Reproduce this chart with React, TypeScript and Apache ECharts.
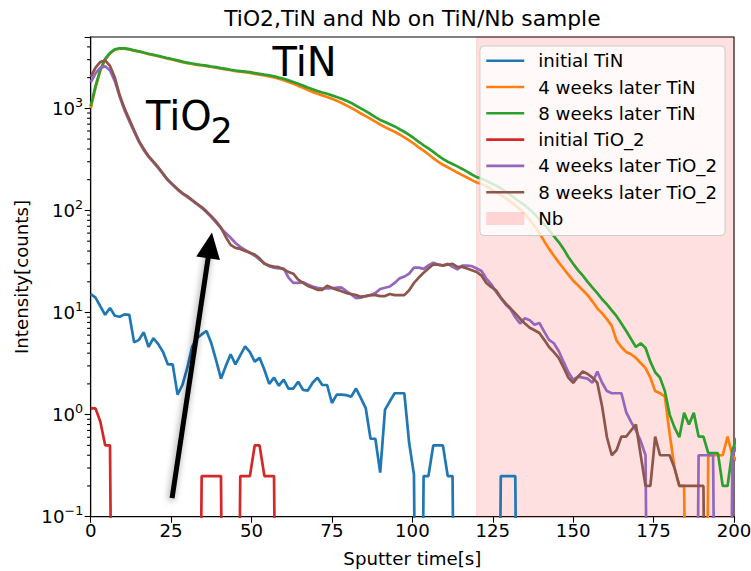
import React, { useEffect, useRef } from 'react';
import * as echarts from 'echarts';

// ---- data (sample index i -> time i * STEP seconds) ----
const STEP = 1.5;

const initialTiN = [
  15.2, 14.0, 11.5, 9.5, 11.1, 9.3, 9.1, 9.6, 9.5, 5.1,
  5.4, 6.4, 4.6, 5.6, 4.9, 4.1, 3.1, 3.1, 1.57, 1.95,
  2.85, 4.6, 5.6, 6.1, 6.6, 5.0, 3.4, 2.25, 3.0, 3.9,
  3.1, 3.8, 4.65, 4.1, 3.3, 3.6, 2.75, 2.0, 2.3, 1.92,
  2.2, 1.8, 1.8, 2.1, 1.75, 1.72, 2.05, 2.3, 1.95, 1.95,
  1.3, 1.57, 1.57, 1.55, 1.5, 1.8, 1.45, 1.16, 0.58, 0.58,
  0.27, 1.12, 1.35, 1.62, 1.62, 1.62, 0.53, 0.26, 0, 0.25,
  0.25, 0.5, 0.5, 0.5, 0.25, 0.25, 0, 0, 0, 0,
  0, 0, 0, 0, 0, 0.25, 0.25, 0.25, 0.25, 0,
  0, 0, 0, 0, 0, 0, 0, 0, 0, 0,
  0, 0, 0, 0, 0, 0, 0, 0, 0, 0,
  0, 0, 0, 0, 0, 0, 0, 0, 0, 0,
  0, 0, 0, 0, 0, 0, 0, 0, 0, 0,
  0, 0, 0, 0, 0,
];

const weeks4TiN = [
  1000, 1600, 2350, 3000, 3450, 3750, 3850, 3850, 3780, 3680,
  3600, 3500, 3400, 3320, 3240, 3150, 3070, 3000, 2920, 2840,
  2770, 2720, 2670, 2630, 2590, 2540, 2500, 2450, 2410, 2360,
  2320, 2290, 2260, 2220, 2180, 2140, 2100, 2060, 2010, 1950,
  1890, 1810, 1740, 1660, 1590, 1510, 1450, 1390, 1340, 1290,
  1240, 1190, 1130, 1070, 1010, 950, 890, 840, 790, 740,
  695, 655, 620, 590, 555, 520, 485, 450, 415, 385,
  355, 325, 300, 280, 265, 250, 235, 222, 210, 198,
  188, 182, 172, 162, 152, 142, 132, 122, 112, 102,
  92, 81, 70, 60, 50, 42, 36, 31, 27, 23.5,
  20.5, 18.5, 16.5, 14.8, 12.8, 11, 9.8, 8.6, 7.4, 5.3,
  4.6, 4.1, 3.9, 3.6, 3.2, 2.85, 2.3, 1.7, 1.62, 1.5,
  0.65, 0.3, 0.2, 0.2, 0, 0, 0, 0, 0.4, 0.4,
  0.4, 0.4, 0.61, 0.4, 0.35,
];

const weeks8TiN = [
  1050, 1650, 2400, 3050, 3500, 3780, 3880, 3870, 3800, 3700,
  3620, 3520, 3430, 3350, 3270, 3180, 3100, 3030, 2950, 2870,
  2800, 2750, 2700, 2660, 2620, 2570, 2530, 2480, 2440, 2390,
  2350, 2320, 2290, 2260, 2220, 2180, 2140, 2110, 2060, 2000,
  1950, 1880, 1810, 1740, 1670, 1600, 1540, 1480, 1430, 1390,
  1340, 1290, 1240, 1190, 1130, 1060, 1000, 940, 880, 820,
  770, 735, 700, 665, 625, 590, 550, 510, 470, 435,
  405, 375, 345, 320, 300, 285, 270, 255, 240, 225,
  212, 205, 195, 185, 175, 165, 153, 142, 131, 121,
  112, 102, 92, 82, 73, 64, 56, 49, 42, 35,
  30, 26, 23, 20, 17.5, 15.5, 13.5, 12, 10.5, 9.2,
  7.8, 6.6, 5.5, 4.6, 5.0, 4.5, 3.3, 2.6, 2.3, 1.7,
  1.0, 0.75, 0.6, 1.04, 0.8, 1.04, 0.61, 0.61, 0.42, 0.42,
  0.42, 0.2, 0.2, 0.45, 0.6,
];

const initialTiO2 = [
  1.15, 1.15, 0.85, 0.5, 0.5, 0, 0, 0, 0, 0,
  0, 0, 0, 0, 0, 0, 0, 0, 0, 0,
  0, 0, 0, 0.25, 0.25, 0.25, 0.25, 0.25, 0, 0,
  0, 0.25, 0.25, 0.25, 0.5, 0.5, 0.25, 0.25, 0.25, 0,
  0, 0, 0, 0, 0, 0, 0, 0, 0, 0,
  0, 0, 0, 0, 0, 0, 0, 0, 0, 0,
  0, 0, 0, 0, 0, 0, 0, 0, 0, 0,
  0, 0, 0, 0, 0, 0, 0, 0, 0, 0,
  0, 0, 0, 0, 0, 0, 0, 0, 0, 0,
  0, 0, 0, 0, 0, 0, 0, 0, 0, 0,
  0, 0, 0, 0, 0, 0, 0, 0, 0, 0,
  0, 0, 0, 0, 0, 0, 0, 0, 0, 0,
  0, 0, 0, 0, 0, 0, 0, 0, 0, 0,
  0, 0, 0, 0, 0,
];

const weeks4TiO2 = [
  1800, 2200, 2500, 2580, 2350, 1850, 1300, 960, 750, 590,
  470, 390, 335, 295, 260, 226, 197, 177, 160, 146,
  136, 125, 115, 106, 96, 86, 76, 67, 60, 54,
  48, 44, 41, 38.5, 36, 33, 30.5, 28.5, 27.5, 27,
  27, 22, 19.5, 19.5, 19.8, 18.8, 18, 17.5, 17.2, 17.2,
  17.3, 17.5, 17.6, 16.2, 15, 13.8, 14, 14.5, 14.8, 15.5,
  17, 17.5, 18, 19.5, 21.6, 22.5, 24, 27.5, 27.5, 26.8,
  29, 30.7, 29.5, 28.8, 30, 28, 26.5, 28.8, 28.8, 28.5,
  27, 25.5, 21.5, 19, 16, 13.8, 12, 10.8, 9, 7.8,
  8.8, 8.4, 7.6, 7.9, 6.5, 5.4, 5.0, 4.2, 3.3, 2.6,
  2.2, 2.35, 2.3, 2.25, 2.05, 2.65, 2.05, 1.7, 1.62, 1.62,
  1.62, 1.05, 0.85, 0.7, 0.55, 0.4, 0, 0, 0, 0,
  0, 0, 0, 0, 0, 0, 0.4, 0.4, 0.4, 0.4,
  0, 0, 0, 0.4, 0.5,
];

const weeks8TiO2 = [
  2050, 2500, 2850, 2950, 2600, 2000, 1350, 1000, 780, 610,
  480, 400, 340, 300, 265, 230, 200, 180, 162, 148,
  138, 127, 117, 108, 98, 88, 78, 68, 55, 46,
  43, 42, 40, 38.5, 37, 34, 30, 28.8, 28.2, 27.8,
  26.5, 25, 24, 21, 19.5, 18.2, 17.5, 16.7, 16.7, 18.3,
  17.5, 16.7, 16.2, 15.5, 15.2, 14.8, 14.3, 14.5, 14.8, 14.8,
  14.5, 14.5, 15.2, 14.8, 14.8, 14.8, 16.5, 19.5, 22, 24.5,
  27, 29.5, 29.5, 29, 29.5, 30, 28, 28, 27, 26,
  25, 23, 19.5, 17.8, 16.5, 14, 12.3, 11, 9.8, 8.7,
  7.8, 7.1, 6.7, 6.3, 5.4, 4.6, 4.1, 3.6, 2.9, 2.3,
  2.05, 2.35, 2.65, 2.5, 2.3, 2.05, 1.2, 0.6, 0.4, 0.45,
  0.61, 0.61, 0.7, 0.8, 0.4, 0.2, 0.2, 0.61, 0.4, 0.4,
  0.4, 0.3, 0.2, 0.2, 0.2, 0.2, 0.2, 0.2, 0, 0,
  0, 0, 0, 0, 0,
];

const seriesNames = [
  'initial TiN',
  '4 weeks later TiN',
  '8 weeks later TiN',
  'initial TiO_2',
  '4 weeks later TiO_2',
  '8 weeks later TiO_2',
];
const seriesValues = [initialTiN, weeks4TiN, weeks8TiN, initialTiO2, weeks4TiO2, weeks8TiO2];
const seriesColors = ['#1f77b4', '#ff7f0e', '#2ca02c', '#d62728', '#9467bd', '#8c564b'];

const NB_LABEL = 'Nb';
const NB_RANGE = [120, 200];

const X_TICKS = [0, 25, 50, 75, 100, 125, 150, 175, 200];
const Y_MIN = 0.1;
const Y_MAX = 5000;
const Y_MINOR_TICKS = [
  0.2, 0.3, 0.4, 0.5, 0.6, 0.7, 0.8, 0.9,
  2, 3, 4, 5, 6, 7, 8, 9,
  20, 30, 40, 50, 60, 70, 80, 90,
  200, 300, 400, 500, 600, 700, 800, 900,
  2000, 3000, 4000,
];

// arrow annotation (data coordinates): tail and head
const ARROW_TAIL = [25.3, 0.152];
const ARROW_HEAD = [37.1, 45.4];

const TITLE = 'TiO2,TiN and Nb on TiN/Nb sample';
const X_NAME = 'Sputter time[s]';
const Y_NAME = 'Intensity[counts]';

const FONT = 'DejaVu Sans';
const ZERO_FLOOR = 1e-6; // zero counts drawn as clipped, like matplotlib's log clip

const LINE_ICON = 'path://M0,0M0,5.2h38v2.6h-38zM38,13';

export default function App() {
  const ref = useRef<HTMLDivElement>(null);

  useEffect(() => {
    if (!ref.current) return;
    const chart = echarts.init(ref.current, null, { renderer: 'svg' });

    const times = initialTiN.map((_, i) => Math.round(i * STEP * 100) / 100);

    const lineSeries = seriesValues.map((vals, k) => ({
      type: 'line',
      name: seriesNames[k],
      data: vals.map((v, i) => [times[i], v > 0 ? v : ZERO_FLOOR]),
      showSymbol: false,
      symbol: 'none',
      color: seriesColors[k],
      itemStyle: { color: seriesColors[k] },
      lineStyle: { color: seriesColors[k], width: 2.7 },
      clip: true,
      silent: true,
      z: 2,
      animation: false,
    }));

    const option: any = {
      animation: false,
      backgroundColor: '#ffffff',
      textStyle: { fontFamily: FONT },
      grid: {
        left: 90.7,
        right: 17,
        top: 37,
        bottom: 54.3,
        show: true,
        borderColor: '#000',
        borderWidth: 1.1,
        backgroundColor: 'transparent',
        containLabel: false,
        outerBoundsMode: 'none',
      },
      xAxis: {
        type: 'value',
        min: X_TICKS[0],
        max: X_TICKS[X_TICKS.length - 1],
        interval: X_TICKS[1] - X_TICKS[0],
        axisLine: { show: true, lineStyle: { color: '#000', width: 1.1 } },
        axisTick: { show: true, length: 6, inside: false, lineStyle: { color: '#000', width: 1.1 } },
        axisLabel: {
          show: true,
          margin: 5,
          color: '#000',
          fontSize: 18.2,
          fontFamily: FONT,
          showMinLabel: true,
          showMaxLabel: true,
        },
        splitLine: { show: false },
      },
      yAxis: {
        type: 'log',
        logBase: 10,
        min: Y_MIN,
        max: Y_MAX,
        axisLine: { show: true, lineStyle: { color: '#000', width: 1.1 } },
        axisTick: { show: true, length: 6, inside: false, lineStyle: { color: '#000', width: 1.1 } },
        axisLabel: {
          show: true,
          margin: 7.5,
          formatter: (v: number) => {
            const e = Math.log10(v);
            const r = Math.round(e);
            if (Math.abs(e - r) > 1e-6) return '';
            const exp = r < 0 ? '\u2212' + String(-r) : String(r);
            return '{m|10}{s|' + exp + '}';
          },
          rich: {
            m: { fontSize: 18.2, fontFamily: FONT, color: '#000', lineHeight: 25 },
            s: { fontSize: 12.7, fontFamily: FONT, color: '#000', verticalAlign: 'top' },
          },
        },
        splitLine: { show: false },
        minorTick: { show: false },
      },
      legend: {
        orient: 'vertical',
        right: 26,
        top: 46,
        itemWidth: 38,
        itemHeight: 13,
        itemGap: 8.3,
        padding: [5.7, 8, 8, 6.3],
        backgroundColor: 'rgba(255,255,255,0.8)',
        borderColor: '#cccccc',
        borderWidth: 1,
        borderRadius: 4,
        selectedMode: false,
        itemStyle: { borderWidth: 0 },
        textStyle: { fontFamily: FONT, fontSize: 18.2, color: '#000', lineHeight: 18, padding: [0, 0, 0, 9] },
        data: [
          ...seriesNames.map((n) => ({ name: n, icon: LINE_ICON })),
          { name: NB_LABEL, icon: 'rect' },
        ],
      },
      series: [
        {
          type: 'line',
          name: NB_LABEL,
          data: [],
          color: 'rgba(255,0,0,0.15)',
          itemStyle: { color: 'rgba(255,0,0,0.15)' },
          z: 1,
          silent: true,
          markArea: {
            silent: true,
            itemStyle: { color: 'rgba(255,0,0,0.12)', borderColor: 'rgba(255,0,0,0.14)', borderWidth: 1 },
            data: [[{ xAxis: NB_RANGE[0] }, { xAxis: NB_RANGE[1] }]],
          },
          markLine: {
            silent: true,
            animation: false,
            symbol: ['none', 'triangle'],
            symbolSize: [24, 26],
            label: { show: false },
            lineStyle: {
              color: '#000',
              width: 5,
              type: 'solid',
              shadowBlur: 7,
              shadowColor: 'rgba(0,0,0,0.4)',
              shadowOffsetX: -1,
              shadowOffsetY: 2,
            },
            data: [[{ coord: ARROW_TAIL }, { coord: ARROW_HEAD }]],
          },
        },
        ...lineSeries,
        {
          type: 'custom',
          name: 'minor-ticks',
          silent: true,
          clip: false,
          z: 3,
          data: Y_MINOR_TICKS.map((v) => [X_TICKS[0], v]),
          renderItem: (params: any, api: any) => {
            const p = api.coord([api.value(0), api.value(1)]);
            return {
              type: 'line',
              shape: { x1: p[0] - 3.6, y1: p[1], x2: p[0], y2: p[1] },
              style: { stroke: '#000', lineWidth: 1.1 },
            };
          },
        },
      ],
      graphic: [
        {
          type: 'text',
          x: 412.4,
          y: 18.2,
          silent: true,
          style: {
            text: TITLE, fontSize: 21.8, fontFamily: FONT, fill: '#000',
            align: 'center', verticalAlign: 'middle', textAlign: 'center', textVerticalAlign: 'middle',
          },
        },
        {
          type: 'text',
          x: 412.4,
          y: 558.5,
          silent: true,
          style: {
            text: X_NAME, fontSize: 18.2, fontFamily: FONT, fill: '#000',
            align: 'center', verticalAlign: 'middle', textAlign: 'center', textVerticalAlign: 'middle',
          },
        },
        {
          type: 'text',
          x: 21,
          y: 277,
          rotation: Math.PI / 2,
          silent: true,
          style: {
            text: Y_NAME, fontSize: 18.2, fontFamily: FONT, fill: '#000',
            align: 'center', verticalAlign: 'middle', textAlign: 'center', textVerticalAlign: 'middle',
          },
        },
        {
          type: 'text',
          x: 272.5,
          y: 61.5,
          silent: true,
          style: {
            text: 'TiN', fontSize: 40, fontFamily: FONT, fill: '#000',
            align: 'left', verticalAlign: 'middle', textAlign: 'left', textVerticalAlign: 'middle',
          },
        },
        {
          type: 'text',
          x: 146,
          y: 116,
          silent: true,
          style: {
            text: 'TiO', fontSize: 40, fontFamily: FONT, fill: '#000',
            align: 'left', verticalAlign: 'middle', textAlign: 'left', textVerticalAlign: 'middle',
          },
        },
        {
          type: 'text',
          x: 210.5,
          y: 131,
          silent: true,
          style: {
            text: '2', fontSize: 35, fontFamily: FONT, fill: '#000',
            align: 'left', verticalAlign: 'middle', textAlign: 'left', textVerticalAlign: 'middle',
          },
        },
      ],
    };

    chart.setOption(option);
    return () => {
      chart.dispose();
    };
  }, []);

  return (
    <div
      ref={ref}
      style={{ position: 'fixed', left: 0, top: 0, width: 751, height: 571, background: '#fff' }}
    />
  );
}
